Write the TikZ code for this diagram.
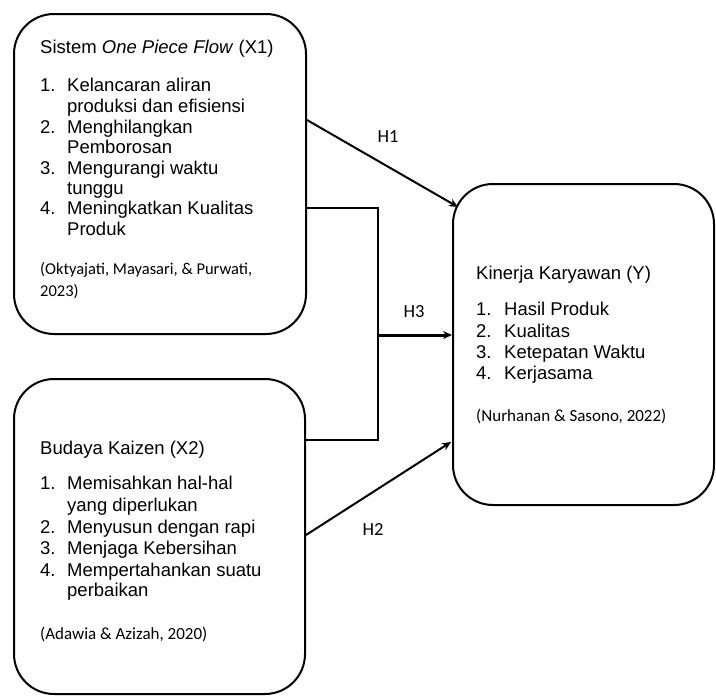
\documentclass[tikz,border=0pt]{standalone}
\usepackage{fontspec}
\setmainfont{Liberation Sans}
\newfontfamily\carl{Carlito}
\usetikzlibrary{arrows.meta}
\begin{document}
\begin{tikzpicture}[x=1pt,y=-1pt,
  box/.style={draw, line width=2pt, rounded corners=40pt, anchor=north west, inner sep=0pt},
  txt/.style={anchor=base west, inner sep=0pt, font=\fontsize{18.5}{20}\selectfont},
  ref/.style={anchor=base west, inner sep=0pt, font=\carl\fontsize{17}{20}\selectfont},
  lab/.style={anchor=center, inner sep=0pt, font=\carl\fontsize{18.5}{20}\selectfont},
  conn/.style={line width=2pt},
  arr/.style={line width=2pt, -{Stealth[length=9pt,width=8pt]}},
  thickarr/.style={line width=3pt, -{Stealth[length=9pt,width=8pt]}},
]
\fill[white] (0,0) rectangle (716,697);
\useasboundingbox (0,0) rectangle (716,697);

% boxes
\node[box, minimum width=292pt, minimum height=320pt] (x1) at (13,13) {};
\node[box, minimum width=291pt, minimum height=315pt] (x2) at (13,378) {};
\node[box, minimum width=261pt, minimum height=321pt] (y) at (452,183) {};

% X1 text
\node[txt] (x1t) at (40,53) {Sistem \textit{One Piece Flow} (X1)};
\node[txt] (x1n1) at (40,91) {1.};
\node[txt] (x1a) at (67,91) {Kelancaran aliran};
\node[txt] (x1b) at (67,112) {produksi dan efisiensi};
\node[txt] (x1n2) at (40,133) {2.};
\node[txt] (x1c) at (67,133) {Menghilangkan};
\node[txt] (x1d) at (67,153) {Pemborosan};
\node[txt] (x1n3) at (40,174) {3.};
\node[txt] (x1e) at (67,174) {Mengurangi waktu};
\node[txt] (x1f) at (67,194) {tunggu};
\node[txt] (x1n4) at (40,214) {4.};
\node[txt] (x1g) at (67,214) {Meningkatkan Kualitas};
\node[txt] (x1h) at (67,235) {Produk};
\node[ref, font=\carl\fontsize{16.5}{20}\selectfont] (x1r1) at (40,274) {(Oktyajati, Mayasari, \& Purwati,};
\node[ref, font=\carl\fontsize{16.5}{20}\selectfont] (x1r2) at (40,296) {2023)};

% X2 text
\node[txt] (x2t) at (40,454) {Budaya Kaizen (X2)};
\node[txt] (x2n1) at (40,489) {1.};
\node[txt] (x2a) at (67,489) {Memisahkan hal-hal};
\node[txt] (x2b) at (67,511) {yang diperlukan};
\node[txt] (x2n2) at (40,533) {2.};
\node[txt] (x2c) at (67,533) {Menyusun dengan rapi};
\node[txt] (x2n3) at (40,554) {3.};
\node[txt] (x2d) at (67,554) {Menjaga Kebersihan};
\node[txt] (x2n4) at (40,576) {4.};
\node[txt] (x2e) at (67,576) {Mempertahankan suatu};
\node[txt] (x2f) at (67,596) {perbaikan};
\node[ref] (x2r) at (40,639) {(Adawia \& Azizah, 2020)};

% Y text
\node[txt] (yt) at (476,279) {Kinerja Karyawan (Y)};
\node[txt] (yn1) at (476,315) {1.};
\node[txt] (ya) at (504,315) {Hasil Produk};
\node[txt] (yn2) at (476,337) {2.};
\node[txt] (yb) at (504,337) {Kualitas};
\node[txt] (yn3) at (476,358) {3.};
\node[txt] (yc) at (504,358) {Ketepatan Waktu};
\node[txt] (yn4) at (476,379) {4.};
\node[txt] (yd) at (504,379) {Kerjasama};
\node[ref] (yr) at (476,421) {(Nurhanan \& Sasono, 2022)};

% connectors
\coordinate (h1end) at (458,207);
\coordinate (h2end) at (451,442);
\coordinate (br) at (378,335);
\draw[arr] (x1.east |- 0,120) -- (h1end);
\draw[conn] (x1.east |- 0,208) -- (378,208) -- (378,440) -- (x2.east |- 0,440);
\draw[thickarr] (br) -- (y.west |- br);
\draw[arr] (x2.east |- 0,535) -- (h2end);

% labels
\node[lab] (h1) at (388,137) {H1};
\node[lab] (h3) at (414,312) {H3};
\node[lab] (h2) at (373,529) {H2};
\end{tikzpicture}
\end{document}
